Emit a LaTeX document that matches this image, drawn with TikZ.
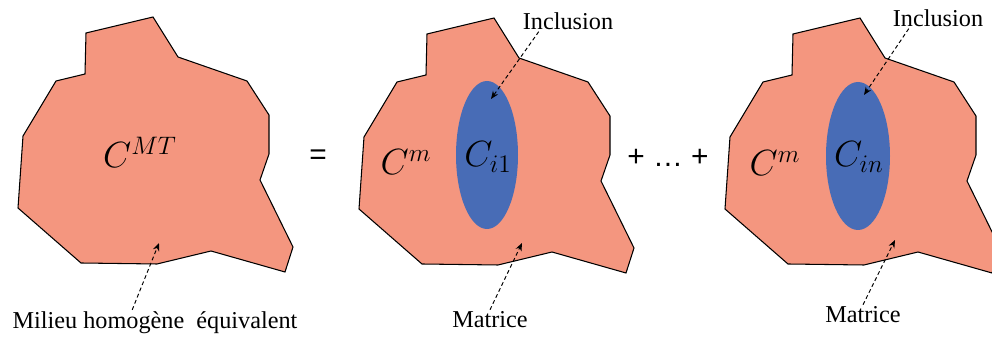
\documentclass[tikz,border=0pt]{standalone}
\usepackage{fontspec}
\setmainfont{Liberation Serif}
\setsansfont{Liberation Sans}
\usepackage{tikz}
\usetikzlibrary{arrows.meta}
\definecolor{saumon}{RGB}{244,150,127}
\definecolor{bleuinc}{RGB}{72,108,182}

\begin{document}
\begin{tikzpicture}[x=0.02cm,y=-0.02cm,
  milieu/.style={fill=saumon,draw=black,line width=0.6pt,line join=miter},
  incl/.style={fill=bleuinc},
  fleche/.style={dash pattern=on 2.2pt off 1.6pt,-{Stealth[length=4.5pt,width=3.6pt]},line width=0.55pt},
  etiq/.style={font=\fontsize{13.8}{16}\selectfont,inner sep=1pt},
  grand/.style={font=\fontsize{19.5}{22}\selectfont},
  signe/.style={font=\sffamily\fontsize{17}{20}\selectfont}]
\clip (0,0) rectangle (992,340);
\foreach \dx/\dy in {0/0,341/1,707/1}
  \filldraw[milieu,shift={(\dx,\dy)}] (86,33) -- (153,17) -- (178,57) -- (247,81)
    -- (269,115) -- (269,154) -- (260,180) -- (293,247) -- (285,272) -- (211,251)
    -- (157,264) -- (81,263) -- (18,208) -- (23,136) -- (56,81) -- (85,74) -- cycle;
\fill[incl] (487,155) ellipse (31 and 74);
\fill[incl] (858,156) ellipse (32 and 74);
% symboles
\node[grand] (cmt) at (140,152) {$C^{MT}$};
\node[signe] (egal) at (318,157) {=};
\node[grand] (cm1) at (406,162) {$C^{m}$};
\node[grand] (ci1) at (488,157) {$C_{i1}$};
\node[signe] (plus) at (668,158) {+ … +};
\node[grand] (cm2) at (775,163) {$C^{m}$};
\node[grand] (cin) at (859,157) {$C_{in}$};
% etiquettes
\node[etiq] (milieu) at (155,323) {Milieu homogène\ \ équivalent};
\node[etiq] (inc1) at (568,21) {Inclusion};
\node[etiq] (mat1) at (490,320) {Matrice};
\node[etiq] (inc2) at (938,18) {Inclusion};
\node[etiq] (mat2) at (863,315) {Matrice};
\coordinate (p0) at (159,243);
\coordinate (pi1) at (491,99);
\coordinate (pm1) at (522,243);
\coordinate (pi2) at (864,95);
\coordinate (pm2) at (895,240);
\draw[fleche] (milieu.150) -- (p0);
\draw[fleche] (inc1.200) -- (pi1);
\draw[fleche] (mat1.north) -- (pm1);
\draw[fleche] (inc2.200) -- (pi2);
\draw[fleche] (mat2.north) -- (pm2);
\end{tikzpicture}
\end{document}
